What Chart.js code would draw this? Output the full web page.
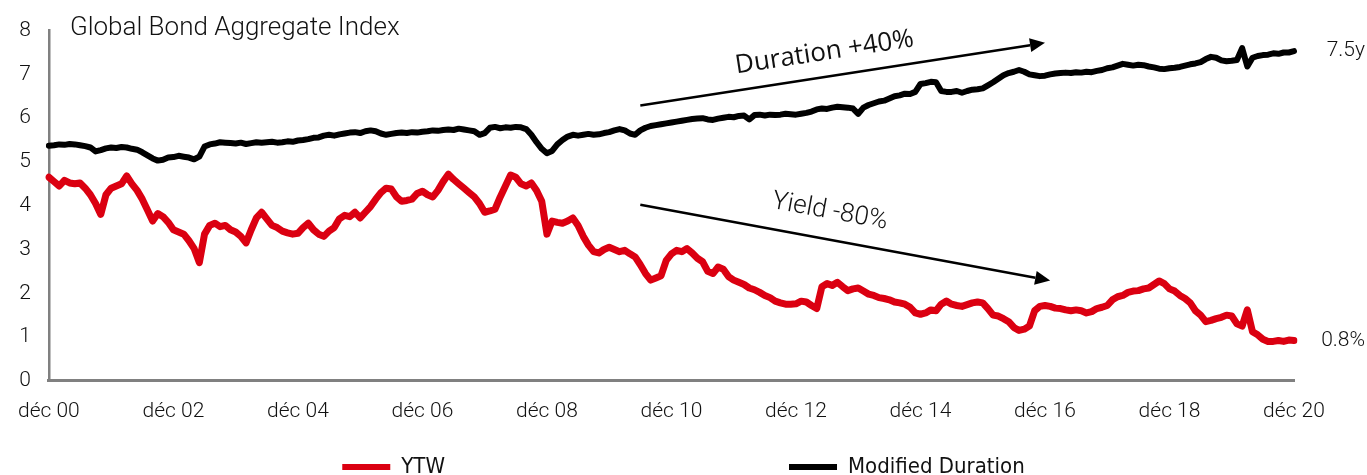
<!DOCTYPE html>
<html>
<head>
<meta charset="utf-8">
<script src="https://cdn.jsdelivr.net/npm/chart.js@4.4.1/dist/chart.umd.min.js"></script>
<style>
  html, body { margin: 0; padding: 0; background: #fff; overflow: hidden; }
  #wrap { width: 1367px; height: 475px; position: relative; }
</style>
</head>
<body>
<div id="wrap"><canvas id="bondChart"></canvas></div>
<script>
// monthly points, déc 2000 -> déc 2020
var months = ['janv', 'févr', 'mars', 'avr', 'mai', 'juin', 'juil', 'août', 'sept', 'oct', 'nov', 'déc'];
var firstYear = 2000;

var ytw = [
  4.65, 4.55, 4.45, 4.58, 4.52, 4.5, 4.52, 4.4, 4.25, 4.05, 3.8, 4.25,
  4.4, 4.45, 4.5, 4.68, 4.5, 4.35, 4.15, 3.9, 3.65, 3.82, 3.75, 3.62,
  3.45, 3.4, 3.35, 3.2, 3.02, 2.7, 3.35, 3.55, 3.6, 3.52, 3.55, 3.45,
  3.4, 3.3, 3.15, 3.45, 3.72, 3.85, 3.7, 3.55, 3.5, 3.42, 3.38, 3.35,
  3.37, 3.5, 3.6, 3.45, 3.35, 3.3, 3.42, 3.5, 3.7, 3.78, 3.75, 3.85,
  3.72, 3.85, 3.98, 4.15, 4.3, 4.4, 4.38, 4.2, 4.1, 4.12, 4.15, 4.28,
  4.33, 4.25, 4.2, 4.35, 4.55, 4.72, 4.6, 4.5, 4.4, 4.3, 4.2, 4.05,
  3.85, 3.88, 3.92, 4.2, 4.45, 4.7, 4.65, 4.5, 4.45, 4.52, 4.35, 4.1,
  3.35, 3.65, 3.62, 3.6, 3.65, 3.72, 3.55, 3.3, 3.1, 2.95, 2.92, 3.0,
  3.05, 3.0, 2.95, 2.98, 2.9, 2.83, 2.65, 2.45, 2.3, 2.35, 2.4, 2.75,
  2.9, 2.98, 2.95, 3.02, 2.92, 2.8, 2.72, 2.5, 2.45, 2.6, 2.55, 2.38,
  2.3, 2.25, 2.2, 2.12, 2.08, 2.02, 1.95, 1.9, 1.82, 1.78, 1.75, 1.75,
  1.76, 1.82, 1.8, 1.72, 1.65, 2.15, 2.22, 2.18, 2.25, 2.15, 2.06, 2.1,
  2.12, 2.05, 1.98, 1.95, 1.9, 1.88, 1.85, 1.8, 1.78, 1.75, 1.68, 1.55,
  1.52, 1.55, 1.62, 1.6, 1.75, 1.82, 1.75, 1.72, 1.7, 1.74, 1.78, 1.8,
  1.78, 1.65, 1.5, 1.48, 1.42, 1.35, 1.22, 1.15, 1.18, 1.25, 1.6, 1.7,
  1.72, 1.7, 1.66, 1.65, 1.62, 1.6, 1.62, 1.6, 1.55, 1.58, 1.65, 1.68,
  1.72, 1.85, 1.92, 1.95, 2.02, 2.05, 2.06, 2.1, 2.12, 2.2, 2.28, 2.22,
  2.1, 2.05, 1.95, 1.88, 1.78, 1.6, 1.5, 1.35, 1.38, 1.42, 1.45, 1.5,
  1.48, 1.3, 1.25, 1.62, 1.12, 1.05, 0.95, 0.9, 0.9, 0.92, 0.9, 0.93,
  0.92
];

var duration = [
  5.37, 5.38, 5.4, 5.39, 5.41, 5.4, 5.38, 5.36, 5.33, 5.24, 5.27, 5.31,
  5.33, 5.32, 5.34, 5.33, 5.3, 5.28, 5.22, 5.15, 5.08, 5.03, 5.05, 5.1,
  5.11, 5.14, 5.12, 5.1, 5.06, 5.12, 5.35, 5.4, 5.42, 5.45, 5.44, 5.43,
  5.42, 5.44, 5.41, 5.43, 5.45, 5.44, 5.45, 5.46, 5.44, 5.45, 5.47, 5.46,
  5.49, 5.5, 5.52, 5.55, 5.56, 5.6, 5.62, 5.6, 5.63, 5.65, 5.67, 5.68,
  5.66, 5.7, 5.72, 5.7, 5.65, 5.62, 5.64, 5.66, 5.67, 5.66, 5.68, 5.67,
  5.69, 5.7, 5.72, 5.71, 5.73, 5.74, 5.73, 5.76, 5.74, 5.72, 5.7, 5.62,
  5.66, 5.78, 5.8, 5.77, 5.79, 5.78, 5.8, 5.79, 5.75, 5.62, 5.45, 5.3,
  5.2, 5.25, 5.4, 5.5, 5.58, 5.62, 5.6, 5.62, 5.64, 5.62, 5.63, 5.66,
  5.68, 5.72, 5.75, 5.72, 5.65, 5.62, 5.72, 5.78, 5.82, 5.84, 5.86, 5.88,
  5.9, 5.92, 5.94, 5.96, 5.98, 5.99, 6.0, 5.97, 5.96, 5.99, 6.01, 6.03,
  6.02, 6.05, 6.06, 5.97, 6.07, 6.08, 6.06, 6.08, 6.07, 6.08, 6.1, 6.09,
  6.08, 6.1, 6.12, 6.15, 6.2, 6.22, 6.21, 6.24, 6.26, 6.25, 6.24, 6.22,
  6.1, 6.24, 6.3, 6.34, 6.38, 6.4, 6.45, 6.5, 6.52, 6.56, 6.55, 6.6,
  6.78, 6.8, 6.83, 6.82, 6.62, 6.6, 6.6, 6.62, 6.58, 6.62, 6.65, 6.66,
  6.68, 6.75, 6.82, 6.9, 6.98, 7.03, 7.06, 7.1, 7.06, 7.0, 6.98, 6.96,
  6.97, 7.0, 7.02, 7.03, 7.04, 7.03, 7.05, 7.04, 7.06, 7.05, 7.08, 7.1,
  7.14, 7.16, 7.2, 7.24, 7.22, 7.2, 7.22, 7.21, 7.18, 7.16, 7.13, 7.12,
  7.14, 7.15, 7.17, 7.2, 7.23, 7.25, 7.28, 7.35, 7.4, 7.38, 7.32, 7.3,
  7.31, 7.33, 7.6, 7.18, 7.38, 7.42, 7.44, 7.45, 7.48, 7.47, 7.5, 7.5,
  7.53
];

var seriesNames = ['YTW', 'Modified Duration'];
var endLabels = ['0.8%', '7.5y'];
var chartTitle = 'Global Bond Aggregate Index';

// annotation arrows in data units (month index, value)
var arrows = [
  { from: [114, 6.29], to: [192, 7.72] },
  { from: [114, 4.02], to: [193, 2.29] }
];
var notes = [
  { text: 'Duration +40%', at: [149.5, 7.5], angle: -8.7, font: '400 26px "Open Sans", sans-serif' },
  { text: 'Yield -80%', at: [150.5, 3.86], angle: 10.4, font: '300 26px Roboto, "Open Sans", sans-serif' }
];

var labels = [];
for (var i = 0; i < ytw.length; i++) {
  var m = (11 + i) % 12;
  var yr = firstYear + Math.floor((11 + i) / 12);
  labels.push(months[m] + ' ' + String(yr).slice(2));
}

var lightFont = { family: 'Roboto, "Open Sans", sans-serif', size: 21, weight: 300 };

var decor = {
  id: 'decor',
  afterDatasetsDraw: function(chart) {
    var ctx = chart.ctx;
    var xs = chart.scales.x, ys = chart.scales.y;
    var area = chart.chartArea;
    ctx.save();

    // title
    ctx.fillStyle = '#111';
    ctx.font = '300 26px Roboto, "Open Sans", sans-serif';
    ctx.textAlign = 'left';
    ctx.textBaseline = 'alphabetic';
    ctx.fillText(chartTitle, area.left + 21, area.top + 4);

    // arrows
    ctx.strokeStyle = '#000';
    ctx.fillStyle = '#000';
    ctx.lineWidth = 2.5;
    arrows.forEach(function(a) {
      var x1 = xs.getPixelForValue(a.from[0]), y1 = ys.getPixelForValue(a.from[1]);
      var x2 = xs.getPixelForValue(a.to[0]), y2 = ys.getPixelForValue(a.to[1]);
      var ang = Math.atan2(y2 - y1, x2 - x1);
      var head = 15;
      ctx.beginPath();
      ctx.moveTo(x1, y1);
      ctx.lineTo(x2 - head * Math.cos(ang), y2 - head * Math.sin(ang));
      ctx.stroke();
      ctx.beginPath();
      ctx.moveTo(x2, y2);
      ctx.lineTo(x2 - head * Math.cos(ang) + 7 * Math.sin(ang), y2 - head * Math.sin(ang) - 7 * Math.cos(ang));
      ctx.lineTo(x2 - head * Math.cos(ang) - 7 * Math.sin(ang), y2 - head * Math.sin(ang) + 7 * Math.cos(ang));
      ctx.closePath();
      ctx.fill();
    });

    // rotated notes
    notes.forEach(function(n) {
      ctx.save();
      ctx.translate(xs.getPixelForValue(n.at[0]), ys.getPixelForValue(n.at[1]));
      ctx.rotate(n.angle * Math.PI / 180);
      ctx.font = n.font;
      ctx.fillStyle = '#111';
      ctx.textAlign = 'center';
      ctx.textBaseline = 'middle';
      ctx.fillText(n.text, 0, 0);
      ctx.restore();
    });

    // end labels next to last points
    ctx.font = '300 21px Roboto, "Open Sans", sans-serif';
    ctx.fillStyle = '#111';
    ctx.textAlign = 'right';
    ctx.textBaseline = 'middle';
    chart.data.datasets.forEach(function(ds, k) {
      var last = ds.data[ds.data.length - 1];
      ctx.fillText(endLabels[k], area.right + 71, ys.getPixelForValue(last));
    });

    // legend
    ctx.font = '22px "Liberation Sans Narrow", "DejaVu Sans Condensed", sans-serif';
    ctx.textAlign = 'left';
    var boxW = 48, gap = 11, spacing = 344;
    var widths = chart.data.datasets.map(function(ds) {
      return boxW + gap + ctx.measureText(ds.label).width;
    });
    var total = widths[0] + spacing + widths[1];
    var lx = chart.width / 2 - total / 2;
    var ly = chart.height - 8;
    chart.data.datasets.forEach(function(ds, k) {
      ctx.fillStyle = ds.borderColor;
      ctx.fillRect(lx, ly - 3, boxW, 6);
      ctx.fillStyle = '#111';
      ctx.fillText(ds.label, lx + boxW + gap, ly);
      lx += widths[k] + spacing;
    });

    ctx.restore();
  }
};

new Chart(document.getElementById('bondChart'), {
  type: 'line',
  data: {
    labels: labels,
    datasets: [
      {
        label: seriesNames[0],
        data: ytw,
        borderColor: '#DB0011',
        borderWidth: 7,
        pointRadius: 0,
        borderJoinStyle: 'round',
        borderCapStyle: 'round',
        tension: 0
      },
      {
        label: seriesNames[1],
        data: duration,
        borderColor: '#000000',
        borderWidth: 6,
        pointRadius: 0,
        borderJoinStyle: 'round',
        borderCapStyle: 'round',
        tension: 0
      }
    ]
  },
  options: {
    responsive: true,
    maintainAspectRatio: false,
    animation: false,
    devicePixelRatio: 1,
    layout: { padding: { top: 27, right: 73, bottom: 33, left: 0 } },
    plugins: {
      legend: { display: false },
      tooltip: { enabled: false }
    },
    scales: {
      x: {
        type: 'category',
        offset: false,
        grid: { display: false, drawTicks: false },
        border: { display: true, color: '#808080', width: 3 },
        ticks: {
          autoSkip: false,
          maxRotation: 0,
          padding: 18,
          color: '#111',
          font: lightFont,
          callback: function(value, index) {
            return index % 24 === 0 ? this.getLabelForValue(value) : null;
          }
        }
      },
      y: {
        min: 0,
        max: 8,
        grid: { display: false, drawTicks: false },
        border: { display: true, color: '#808080', width: 2.5 },
        ticks: {
          stepSize: 1,
          padding: 18,
          color: '#111',
          font: lightFont
        }
      }
    }
  },
  plugins: [decor]
});
</script>
</body>
</html>
